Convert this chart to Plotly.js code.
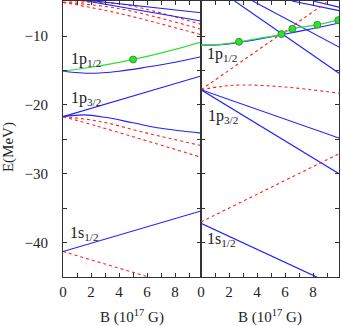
<!DOCTYPE html>
<html>
<head>
<meta charset="utf-8">
<script src="https://cdn.plot.ly/plotly-3.0.1.min.js"></script>
<style>
  html, body { margin: 0; padding: 0; background: #fff; }
  #chart { width: 342px; height: 326px; }
</style>
</head>
<body>
<div id="chart"></div>
<script>
// levels vs B: [B (1e17 G), E (MeV)]
// left panel
const lTopBlue1 = [[0, -4.4], [9.85, -6.6]];
const lTopBlue2 = [[0, -4.3], [9.85, -7.8]];
const lTopRed1 = [[0, -5.1], [4, -5.3], [9.85, -8.3]];
const lTopRed2 = [[0, -5.1], [4, -6.0], [9.85, -9.0]];
const lTopRed3 = [[0, -5.1], [4, -6.7], [9.85, -9.8]];
const lP12Green = [[0, -15.1], [2, -14.53], [4, -13.81], [6, -12.94], [8, -11.94], [9.85, -10.87]];
const lP12Blue = [[0, -15.1], [2, -15.4], [4, -15.1], [6, -14.5], [8, -13.8], [9.85, -13.0]];
const lP32Blue1 = [[0, -21.7], [9.85, -15.8]];
const lP32Blue2 = [[0, -21.7], [1.5, -21.45], [3, -21.8], [5, -22.6], [7, -23.4], [9.85, -24.1]];
const lP32Red1 = [[0, -21.7], [2.64, -22.4], [6, -24.1], [9.85, -25.9]];
const lP32Red2 = [[0, -21.7], [2.64, -23.2], [9.85, -27.6]];
const lS12Blue = [[0, -41.3], [9.85, -35.4]];
const lS12Red = [[0, -41.3], [6.2, -45.05]];
const lMarkB = [5.0];
const lMarkE = [-13.4];

// right panel
const rTopBlue1 = [[2.4, -4.9], [9.85, -15.4]];
const rTopBlue2 = [[3.6, -4.8], [9.85, -11.6]];
const rTopBlue3 = [[6.5, -4.9], [9.85, -6.3]];
const rTopBlue4 = [[8.0, -4.9], [9.85, -5.8]];
const rP12Green = [[0, -11.3], [1.4, -11.2], [2.71, -10.83], [4.2, -10.3], [5.74, -9.71], [6.52, -8.94], [8.3, -8.36], [9.85, -7.65]];
const rP12Blue = [[0, -11.3], [1.4, -11.25], [2.71, -10.9], [4.2, -10.4], [5.74, -9.8], [8, -8.9], [9.85, -8.1]];
const rP32Red1 = [[0, -17.8], [5.71, -9.7], [9.1, -4.9]];
const rP32Red2 = [[0, -17.8], [1.5, -17.3], [2.9, -17.1], [6, -17.4], [9.85, -18.3]];
const rP32Blue1 = [[0, -17.8], [9.85, -24.8]];
const rP32Blue2 = [[0, -17.8], [9.85, -30.0]];
const rS12Red = [[0, -37.0], [9.85, -27.1]];
const rS12Blue = [[0, -37.2], [8.3, -45.05]];
const rMarkB = [2.71, 5.74, 6.52, 8.3, 9.8];
const rMarkE = [-10.83, -9.71, -8.94, -8.36, -7.68];

const labels = [
  ['x', 'y', 1.65, -13.4, '1p<sub>1/2</sub>'],
  ['x', 'y', 1.65, -19.0, '1p<sub>3/2</sub>'],
  ['x', 'y', 1.5, -38.7, '1s<sub>1/2</sub>'],
  ['x2', 'y2', 1.5, -12.7, '1p<sub>1/2</sub>'],
  ['x2', 'y2', 1.55, -21.7, '1p<sub>3/2</sub>'],
  ['x2', 'y2', 1.45, -39.6, '1s<sub>1/2</sub>']
];

const BLUE = '#1f1fff';
const RED = '#ff2020';
const GREEN = '#33dd33';

function line(pts, kind, panel) {
  const style = {
    blue: {color: BLUE, width: 1.1},
    red: {color: RED, width: 1.1, dash: '3px,3px'},
    green: {color: GREEN, width: 1.2}
  }[kind];
  return {
    x: pts.map(p => p[0]),
    y: pts.map(p => p[1]),
    xaxis: panel === 2 ? 'x2' : 'x',
    yaxis: panel === 2 ? 'y2' : 'y',
    mode: 'lines',
    line: Object.assign({shape: pts.length > 2 ? 'spline' : 'linear'}, style),
    hoverinfo: 'skip'
  };
}

function marks(b, e, panel) {
  return {
    x: b, y: e,
    xaxis: panel === 2 ? 'x2' : 'x',
    yaxis: panel === 2 ? 'y2' : 'y',
    mode: 'markers',
    marker: {color: GREEN, size: 7, line: {color: '#1a8a1a', width: 0.8}},
    hoverinfo: 'skip'
  };
}

const data = [
  line(lTopRed1, 'red', 1), line(lTopRed2, 'red', 1), line(lTopRed3, 'red', 1),
  line(lTopBlue1, 'blue', 1), line(lTopBlue2, 'blue', 1),
  line(lP12Blue, 'blue', 1), line(lP12Green, 'green', 1),
  line(lP32Red1, 'red', 1), line(lP32Red2, 'red', 1),
  line(lP32Blue1, 'blue', 1), line(lP32Blue2, 'blue', 1),
  line(lS12Red, 'red', 1), line(lS12Blue, 'blue', 1),
  marks(lMarkB, lMarkE, 1),

  line(rTopBlue1, 'blue', 2), line(rTopBlue2, 'blue', 2),
  line(rTopBlue3, 'blue', 2), line(rTopBlue4, 'blue', 2),
  line(rP32Red1, 'red', 2), line(rP32Red2, 'red', 2),
  line(rP32Blue1, 'blue', 2), line(rP32Blue2, 'blue', 2),
  line(rS12Red, 'red', 2), line(rS12Blue, 'blue', 2),
  line(rP12Blue, 'blue', 2), line(rP12Green, 'green', 2),
  marks(rMarkB, rMarkE, 2)
];

const FONT = 'Liberation Serif, DejaVu Serif, serif';
const AX = '#333';

function xax(domain, anchor) {
  return {
    domain: domain, anchor: anchor, range: [0, 9.85],
    tickvals: [0, 2, 4, 6, 8], ticks: 'inside', ticklen: 4, tickcolor: AX,
    minor: {tickvals: [1, 3, 5, 7, 9], ticks: 'inside', ticklen: 4, tickcolor: AX},
    showline: true, linecolor: AX, linewidth: 1, mirror: 'allticks',
    showgrid: false, zeroline: false, ticklabelstandoff: 1,
    tickfont: {family: FONT, size: 15, color: '#222'},
    title: {text: 'B (10<sup>17</sup> G)', font: {family: FONT, size: 15, color: '#222'}, standoff: 16}
  };
}

function yax(anchor, labelsOn) {
  return {
    anchor: anchor, range: [-45, -4.9],
    tickvals: [-40, -30, -20, -10], ticks: 'inside', ticklen: 4, tickcolor: AX,
    minor: {tickvals: [-35, -25, -15, -5], ticks: 'inside', ticklen: 4, tickcolor: AX},
    showline: true, linecolor: AX, linewidth: 1, mirror: 'allticks',
    showgrid: false, zeroline: false, showticklabels: labelsOn, ticklabelstandoff: 11,
    tickfont: {family: FONT, size: 15, color: '#222'}
  };
}

const annotations = labels.map(l => ({
  xref: l[0], yref: l[1], x: l[2], y: l[3], text: l[4],
  showarrow: false, font: {family: FONT, size: 16, color: '#222'}
}));
annotations.push({
  xref: 'paper', yref: 'paper', x: -0.2, y: 0.47, text: 'E(MeV)',
  textangle: -90, showarrow: false, xanchor: 'center', yanchor: 'middle',
  font: {family: FONT, size: 15, color: '#222'}
});

const layout = {
  width: 342, height: 326,
  margin: {l: 63, r: 3, t: 1, b: 49},
  paper_bgcolor: '#fff', plot_bgcolor: '#fff',
  showlegend: false,
  xaxis: xax([0, 0.5], 'y'),
  xaxis2: xax([0.5, 1], 'y2'),
  yaxis: yax('x', true),
  yaxis2: yax('x2', false),
  annotations: annotations
};
layout.yaxis2.matches = 'y';

Plotly.newPlot('chart', data, layout, {staticPlot: true, displayModeBar: false});
</script>
</body>
</html>
